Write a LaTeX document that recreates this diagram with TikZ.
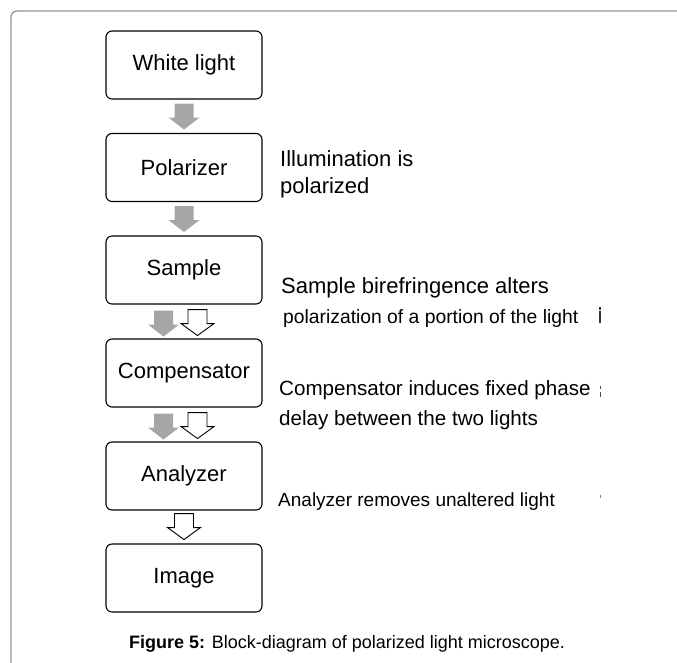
\documentclass[tikz,border=0pt]{standalone}
\usepackage{fontspec}
\setmainfont{Liberation Sans}
\usetikzlibrary{calc}
\definecolor{arrowgray}{RGB}{166,166,166}
\definecolor{framegray}{RGB}{150,150,150}
\begin{document}
\begin{tikzpicture}[x=1pt,y=-1pt,
  stage/.style={draw=black, line width=1.1pt, rounded corners=6pt,
    minimum width=156pt, minimum height=68pt, inner sep=0pt,
    font=\fontsize{22}{26}\selectfont},
  note/.style={anchor=base west, inner sep=0pt, font=\fontsize{22}{26}\selectfont},
  smallnote/.style={note, font=\fontsize{20.6}{24}\selectfont},
  grayarrow/.pic={\fill[arrowgray] (-9.5,0) -- (9.5,0) -- (9.5,14) -- (15.5,14)
      -- (0,26) -- (-15.5,14) -- (-9.5,14) -- cycle;},
  whitearrow/.pic={\draw[fill=white, line width=0.9pt, line join=miter]
      (-9.5,0) -- (9.5,0) -- (9.5,14) -- (16.5,14) -- (0,26) -- (-16.5,14)
      -- (-9.5,14) -- cycle;}
]
\useasboundingbox (0,0) rectangle (677,662);

% page frame
\draw[framegray, line width=1.3pt, rounded corners=6pt] (11,664) -- (11,11) -- (679,11);

% stages
\node[stage] (wl)   at (184,65)  {White light};
\node[stage] (pol)  at (184,167.5) {Polarizer};
\node[stage] (smp)  at (184,270) {Sample};
\node[stage] (comp) at (184,373) {Compensator};
\node[stage] (ana)  at (184,476) {Analyzer};
\node[stage] (img)  at (184,578) {Image};

% light flow between stages
\pic at ($(wl.south)+(0,4)$) {grayarrow};
\pic at ($(pol.south)+(0,4)$) {grayarrow};
\pic at ($(smp.south)+(-20.5,6)$) {grayarrow};
\pic at ($(smp.south)+(13.5,5)$) {whitearrow};
\pic at ($(comp.south)+(-20.5,6)$) {grayarrow};
\pic at ($(comp.south)+(13.5,5)$) {whitearrow};
\pic at ($(ana.south)+(0,3)$) {whitearrow};

% explanations
\node[note] (n1a) at (280,166) {Illumination is};
\node[note] (n1b) at (280,193) {polarized};
\node[note] (n2a) at (281,293) {Sample birefringence alters};
\node[note, font=\fontsize{19.3}{23}\selectfont] (n2b) at (283,323) {polarization of a portion of the light};
\node[smallnote] (n3a) at (279,395) {Compensator induces fixed phase};
\node[smallnote] (n3b) at (279,425) {delay between the two lights};
\node[note, font=\fontsize{19}{23}\selectfont] (n4) at (278,506) {Analyzer removes unaltered light};

% cut-off glyph remnants at the right
\fill[black!80] (599.4,306.5) rectangle (600.6,309.5);
\fill[black!80] (599.4,311) rectangle (600.6,323);
\fill[black!70] (599.5,386) rectangle (600.5,389);
\fill[black!70] (599.5,392) rectangle (600.5,397);
\fill[black!50] (599.6,495) rectangle (600.4,498);

% caption
\node[anchor=base, inner sep=0pt, font=\fontsize{18}{22}\selectfont] (cap) at (347,648)
  {\textbf{Figure 5:} Block-diagram of polarized light microscope.};
\end{tikzpicture}
\end{document}
